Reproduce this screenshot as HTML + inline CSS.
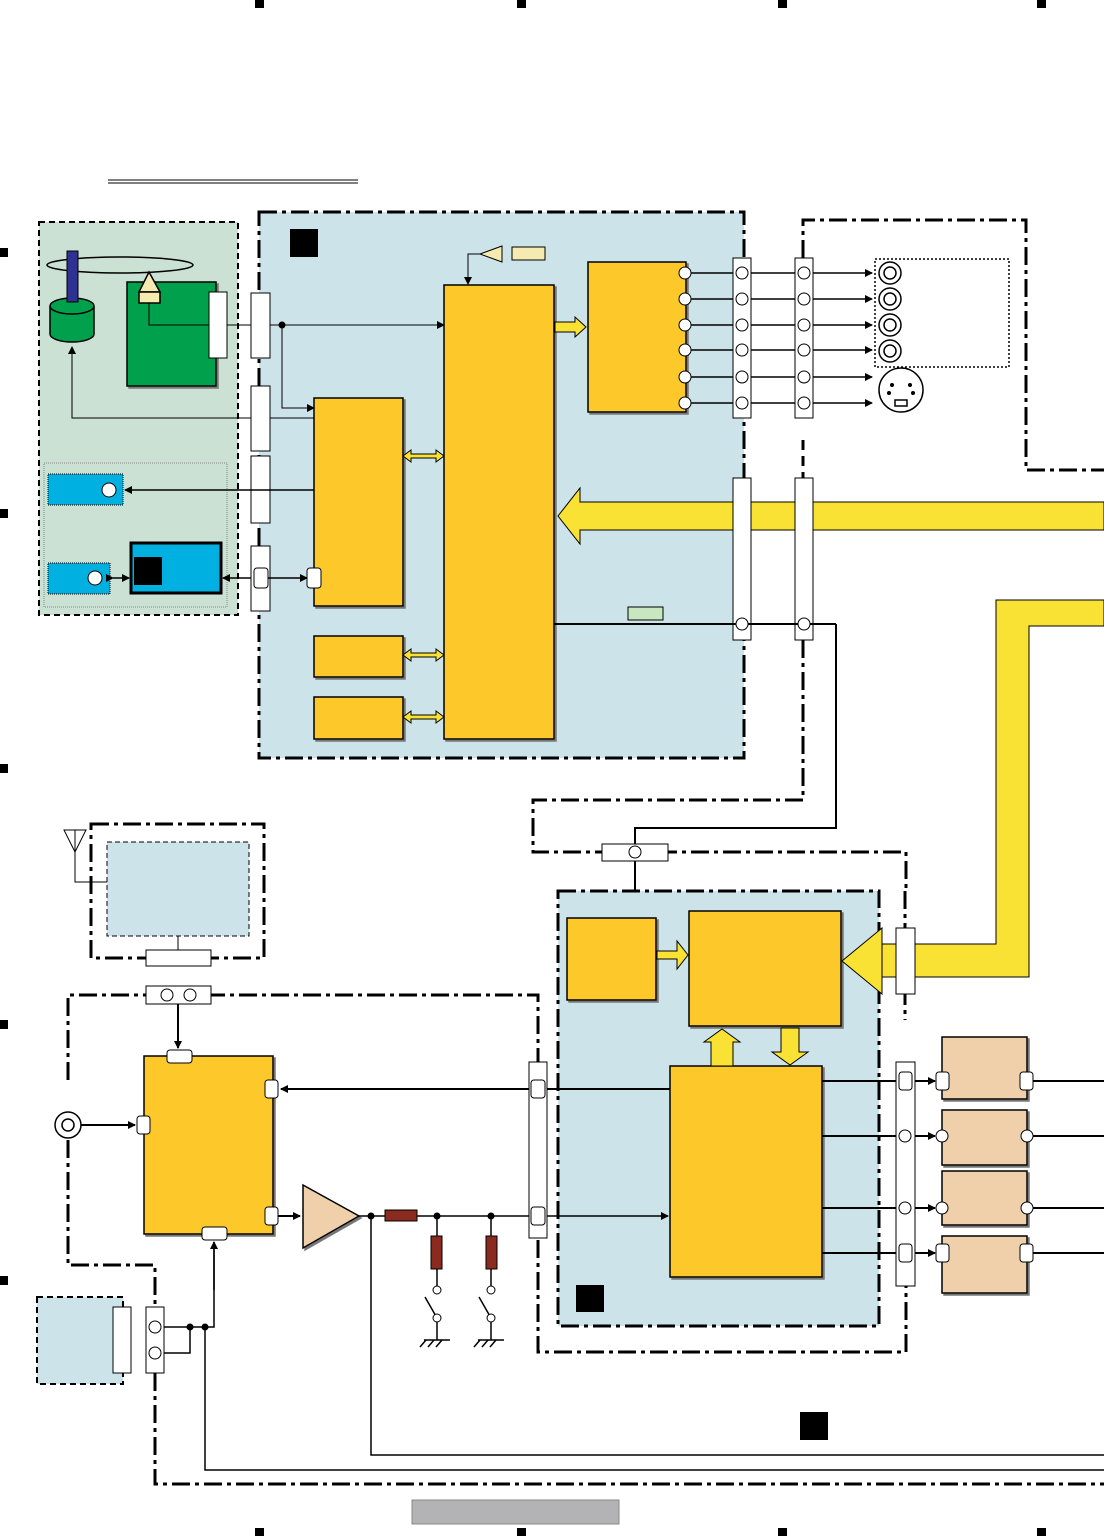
<!DOCTYPE html><html><head><meta charset="utf-8"><style>html,body{margin:0;padding:0;background:#fff}svg{display:block}</style></head><body>
<svg width="1104" height="1536" viewBox="0 0 1104 1536" xmlns="http://www.w3.org/2000/svg">
<defs>
<marker id="a" markerWidth="8" markerHeight="8" refX="7" refY="4" orient="auto" markerUnits="userSpaceOnUse"><path d="M0,0L8,4L0,8z" fill="#000"/></marker>
<filter id="s"><feDropShadow dx="2" dy="2" stdDeviation="0" flood-color="#777"/></filter>
</defs>
<g fill="#000">
<rect x="255" y="0" width="9" height="8"/><rect x="517" y="0" width="9" height="8"/><rect x="778" y="0" width="9" height="8"/><rect x="1037" y="0" width="9" height="8"/>
<rect x="255" y="1528" width="9" height="8"/><rect x="517" y="1528" width="9" height="8"/><rect x="778" y="1528" width="9" height="8"/><rect x="1037" y="1528" width="9" height="8"/>
<rect x="0" y="248" width="8" height="9"/><rect x="0" y="509" width="8" height="9"/><rect x="0" y="764" width="8" height="9"/><rect x="0" y="1020" width="8" height="9"/><rect x="0" y="1276" width="8" height="9"/>
</g>
<line x1="108" y1="180" x2="358" y2="180" stroke="#000"/><line x1="108" y1="183" x2="358" y2="183" stroke="#000"/>
<!-- green box -->
<rect x="39" y="222" width="199" height="393" fill="#cae1d3" stroke="#000" stroke-width="2" stroke-dasharray="6,4"/>
<rect x="44" y="463" width="183" height="144" fill="none" stroke="#888" stroke-dasharray="1,1"/>
<!-- blue panel -->
<rect x="259" y="212" width="485" height="546" fill="#cde3ea" stroke="#000" stroke-width="3" stroke-dasharray="18,5,4,5"/>
<rect x="290" y="229" width="28" height="28" fill="#000"/>
<!-- right dash-dot region top -->
<path d="M803,258 V220 H1026 V470 H1104" fill="none" stroke="#000" stroke-width="3" stroke-dasharray="18,5,4,5"/>
<line x1="803" y1="440" x2="803" y2="478" stroke="#000" stroke-width="3" stroke-dasharray="10,6"/>
<!-- disk -->
<ellipse cx="120" cy="265" rx="73" ry="8" fill="none" stroke="#000" stroke-width="1.5"/>
<path d="M50,306 V334 A22,8 0 0 0 94,334 V306" fill="#00a04d" stroke="#000" stroke-width="1.5"/>
<ellipse cx="72" cy="306" rx="22" ry="8" fill="#00a04d" stroke="#000" stroke-width="1.5"/>
<rect x="67" y="251" width="11" height="51" fill="#2e3192" stroke="#000"/>
<rect x="127" y="282" width="89" height="104" fill="#00a04d" stroke="#000" stroke-width="1.5" filter="url(#s)"/>
<path d="M139,292 L149,272 L160,292Z" fill="#f5eab0" stroke="#000" stroke-width="1.5"/>
<rect x="139" y="292" width="21" height="11" fill="#f5eab0" stroke="#000" stroke-width="1.5"/>
<rect x="209" y="292" width="18" height="66" fill="#fff" stroke="#000"/>
<path d="M149,303 V325 H209" fill="none" stroke="#000"/>
<line x1="227" y1="325" x2="444" y2="325" stroke="#000" marker-end="url(#a)"/>
<circle cx="282" cy="325" r="3.5"/>
<path d="M282,325 V408 H314" fill="none" stroke="#000" marker-end="url(#a)"/>
<path d="M314,418 H72 V347" fill="none" stroke="#000" marker-end="url(#a)"/>
<!-- connectors left -->
<rect x="251" y="293" width="19" height="65" fill="#fff" stroke="#000"/>
<rect x="251" y="386" width="19" height="65" fill="#fff" stroke="#000"/>
<rect x="251" y="456" width="19" height="67" fill="#fff" stroke="#000"/>
<rect x="251" y="546" width="19" height="65" fill="#fff" stroke="#000"/>
<!-- cyan boxes -->
<rect x="48" y="474" width="75" height="31" fill="#00b0e0" stroke="#000" stroke-dasharray="1,1"/>
<circle cx="109" cy="490" r="7" fill="#fff" stroke="#000"/>
<line x1="314" y1="490" x2="125" y2="490" stroke="#000" stroke-width="1.5" marker-end="url(#a)"/>
<rect x="48" y="563" width="62" height="31" fill="#00b0e0" stroke="#000" stroke-dasharray="1,1"/>
<circle cx="95" cy="578" r="7" fill="#fff" stroke="#000"/>
<rect x="131" y="543" width="90" height="50" fill="#00b0e0" stroke="#000" stroke-width="3"/>
<rect x="134" y="557" width="28" height="28" fill="#000"/>
<path d="M113,578 H129" stroke="#000" stroke-width="1.5" marker-end="url(#a)" marker-start="url(#a)"/>
<line x1="251" y1="578" x2="223" y2="578" stroke="#000" stroke-width="1.5" marker-end="url(#a)"/>
<line x1="267" y1="578" x2="307" y2="578" stroke="#000" stroke-width="1.5" marker-end="url(#a)"/>
<rect x="254" y="568" width="14" height="20" rx="3" fill="#fff" stroke="#000"/>
<!-- yellow blocks -->
<g fill="#fcc82a" stroke="#000" stroke-width="1.5" filter="url(#s)">
<rect x="444" y="285" width="110" height="454"/>
<rect x="588" y="262" width="98" height="150"/>
<rect x="314" y="398" width="89" height="208"/>
<rect x="314" y="636" width="89" height="41"/>
<rect x="314" y="697" width="89" height="42"/>
</g>
<rect x="307" y="568" width="14" height="20" rx="3" fill="#fff" stroke="#000"/>
<!-- double arrows -->
<g fill="#f9e233" stroke="#000">
<path d="M403,456 l8,-6 v4 h25 v-4 l8,6 l-8,6 v-4 h-25 v4z"/>
<path d="M403,655 l8,-6 v4 h25 v-4 l8,6 l-8,6 v-4 h-25 v4z"/>
<path d="M403,717 l8,-6 v4 h25 v-4 l8,6 l-8,6 v-4 h-25 v4z"/>
<path d="M555,322 h20 v-5 l11,10 l-11,10 v-5 h-20z"/>
</g>
<!-- triangle top -->
<path d="M480,254 L502,246 V262Z" fill="#f5eab0" stroke="#000"/>
<rect x="512" y="247" width="33" height="13" fill="#f5eab0" stroke="#000"/>
<path d="M480,254 H468 V284" fill="none" stroke="#000" marker-end="url(#a)"/>
<rect x="628" y="607" width="35" height="13" fill="#c8e6c0" stroke="#000"/>
<!-- output lines -->
<g stroke="#000" stroke-width="1.5">
<line x1="686" y1="273" x2="872" y2="273" marker-end="url(#a)"/>
<line x1="686" y1="299" x2="872" y2="299" marker-end="url(#a)"/>
<line x1="686" y1="325" x2="872" y2="325" marker-end="url(#a)"/>
<line x1="686" y1="350" x2="872" y2="350" marker-end="url(#a)"/>
<line x1="686" y1="377" x2="872" y2="377" marker-end="url(#a)"/>
<line x1="686" y1="403" x2="872" y2="403" marker-end="url(#a)"/>
</g>
<g fill="#fff" stroke="#000">
<rect x="733" y="258" width="18" height="160"/><rect x="795" y="258" width="18" height="160"/>
<rect x="733" y="478" width="18" height="162"/><rect x="795" y="478" width="18" height="162"/>
<circle cx="685" cy="273" r="6"/><circle cx="685" cy="299" r="6"/><circle cx="685" cy="325" r="6"/><circle cx="685" cy="350" r="6"/><circle cx="685" cy="377" r="6"/><circle cx="685" cy="403" r="6"/>
<circle cx="742" cy="273" r="6"/><circle cx="742" cy="299" r="6"/><circle cx="742" cy="325" r="6"/><circle cx="742" cy="350" r="6"/><circle cx="742" cy="377" r="6"/><circle cx="742" cy="403" r="6"/>
<circle cx="804" cy="273" r="6"/><circle cx="804" cy="299" r="6"/><circle cx="804" cy="325" r="6"/><circle cx="804" cy="350" r="6"/><circle cx="804" cy="377" r="6"/><circle cx="804" cy="403" r="6"/>
</g>
<rect x="875" y="259" width="134" height="108" fill="none" stroke="#000" stroke-width="1.5" stroke-dasharray="2,2"/>
<g fill="#fff" stroke="#000" stroke-width="1.5">
<circle cx="890" cy="273" r="11"/><circle cx="890" cy="273" r="6"/>
<circle cx="890" cy="299" r="11"/><circle cx="890" cy="299" r="6"/>
<circle cx="890" cy="325" r="11"/><circle cx="890" cy="325" r="6"/>
<circle cx="890" cy="351" r="11"/><circle cx="890" cy="351" r="6"/>
<circle cx="901" cy="390" r="22"/><rect x="895" y="400" width="12" height="6"/>
</g>
<g fill="#000"><circle cx="892" cy="385" r="2"/><circle cx="910" cy="385" r="2"/><circle cx="889" cy="393" r="2"/><circle cx="913" cy="393" r="2"/></g>
<!-- big yellow arrow -->
<path d="M1104,502 H580 V488 L558,516 L580,544 V530 H1104Z" fill="#f9e233" stroke="#000"/>
<rect x="733" y="478" width="18" height="162" fill="#fff" stroke="#000"/><rect x="795" y="478" width="18" height="162" fill="#fff" stroke="#000"/>
<line x1="554" y1="624" x2="836" y2="624" stroke="#000" stroke-width="2"/>
<circle cx="742" cy="624" r="6" fill="#fff" stroke="#000"/><circle cx="804" cy="624" r="6" fill="#fff" stroke="#000"/>
<!-- connection to lower -->
<path d="M836,624 V828 H635 V915" fill="none" stroke="#000" stroke-width="2" marker-end="url(#a)"/>
<path d="M803,640 V800 H533 V852 H906 V891" fill="none" stroke="#000" stroke-width="3" stroke-dasharray="18,5,4,5"/>
<rect x="602" y="844" width="66" height="17" fill="#fff" stroke="#000"/><circle cx="635" cy="852" r="6" fill="#fff" stroke="#000"/>
<!-- right yellow L -->
<path d="M1104,600 H996 V944 H882 V928 L842,961 L882,994 V977 H1029 V626 H1104Z" fill="#f9e233" stroke="#000"/>
<!-- lower blue box -->
<rect x="558" y="891" width="321" height="435" fill="#cde3ea" stroke="#000" stroke-width="3" stroke-dasharray="18,5,4,5"/>
<path d="M882,961 H842" stroke="none"/>
<path d="M905,891 V1020" stroke="#000" stroke-width="3" stroke-dasharray="18,5,4,5"/>
<rect x="896" y="928" width="19" height="66" fill="#fff" stroke="#000"/>
<g fill="#fcc82a" stroke="#000" stroke-width="1.5" filter="url(#s)">
<rect x="567" y="918" width="89" height="82"/>
<rect x="689" y="911" width="152" height="115"/>
<rect x="670" y="1066" width="152" height="211"/>
</g>
<path d="M842,961 l40,-33 v66z" fill="#f9e233" stroke="#000"/>
<g fill="#f9e233" stroke="#000">
<path d="M657,951 h20 v-10 l11,14 l-11,14 v-10 h-20z"/>
<path d="M711,1066 v-24 h-7 l18,-13 l18,13 h-7 v24z"/>
<path d="M781,1028 v24 h-9 l18,13 l18,-13 h-9 v-24z"/>
</g>
<rect x="576" y="1285" width="28" height="27" fill="#000"/>
<rect x="800" y="1412" width="28" height="28" fill="#000"/>
<!-- tan boxes -->
<g fill="#f0cfab" stroke="#000" stroke-width="1.5" filter="url(#s)">
<rect x="942" y="1037" width="85" height="62"/>
<rect x="942" y="1110" width="85" height="55"/>
<rect x="942" y="1171" width="85" height="54"/>
<rect x="942" y="1236" width="85" height="57"/>
</g>
<g stroke="#000" stroke-width="2">
<line x1="822" y1="1081" x2="935" y2="1081" marker-end="url(#a)"/>
<line x1="822" y1="1136" x2="935" y2="1136" marker-end="url(#a)"/>
<line x1="822" y1="1208" x2="935" y2="1208" marker-end="url(#a)"/>
<line x1="822" y1="1253" x2="935" y2="1253" marker-end="url(#a)"/>
<line x1="1027" y1="1081" x2="1104" y2="1081"/><line x1="1027" y1="1136" x2="1104" y2="1136"/>
<line x1="1027" y1="1208" x2="1104" y2="1208"/><line x1="1027" y1="1253" x2="1104" y2="1253"/>
</g>
<rect x="896" y="1062" width="19" height="224" fill="#fff" stroke="#000"/>
<g fill="#fff" stroke="#000">
<rect x="899" y="1072" width="13" height="18" rx="3"/><circle cx="905" cy="1136" r="6"/><circle cx="905" cy="1208" r="6"/><rect x="899" y="1244" width="13" height="18" rx="3"/>
<rect x="936" y="1072" width="13" height="18" rx="3"/><circle cx="942" cy="1136" r="6"/><circle cx="942" cy="1208" r="6"/><rect x="936" y="1244" width="13" height="18" rx="3"/>
<rect x="1020" y="1072" width="13" height="18" rx="3"/><circle cx="1027" cy="1136" r="6"/><circle cx="1027" cy="1208" r="6"/><rect x="1020" y="1244" width="13" height="18" rx="3"/>
</g>
<!-- top-left small box -->
<rect x="91" y="824" width="173" height="134" fill="none" stroke="#000" stroke-width="3" stroke-dasharray="18,5,4,5"/>
<rect x="107" y="842" width="142" height="94" fill="#cde3ea" stroke="#000" stroke-dasharray="5,3"/>
<path d="M64,830 H86 L75,852Z M75,830 V882 H107" fill="none" stroke="#000"/>
<line x1="178" y1="936" x2="178" y2="950" stroke="#000"/>
<rect x="146" y="950" width="65" height="16" fill="#fff" stroke="#000"/>
<!-- dash-dot loop -->
<path d="M68,1080 V995 H538 V1352 H906 V1286" fill="none" stroke="#000" stroke-width="3" stroke-dasharray="18,5,4,5"/>
<path d="M68,1140 V1265 H155 V1484 H1104" fill="none" stroke="#000" stroke-width="3" stroke-dasharray="18,5,4,5"/>
<rect x="146" y="986" width="65" height="18" fill="#fff" stroke="#000"/>
<circle cx="167" cy="995" r="6" fill="#fff" stroke="#000"/><circle cx="190" cy="995" r="6" fill="#fff" stroke="#000"/>
<line x1="178" y1="1004" x2="178" y2="1048" stroke="#000" stroke-width="2" marker-end="url(#a)"/>
<!-- left yellow -->
<rect x="144" y="1056" width="129" height="178" fill="#fcc82a" stroke="#000" stroke-width="1.5" filter="url(#s)"/>
<g fill="#fff" stroke="#000">
<rect x="167" y="1050" width="25" height="13" rx="3"/><rect x="202" y="1227" width="25" height="13" rx="3"/>
<rect x="265" y="1080" width="13" height="18" rx="3"/><rect x="265" y="1207" width="13" height="18" rx="3"/>
<rect x="137" y="1116" width="13" height="18" rx="3"/>
</g>
<circle cx="68" cy="1125" r="13" fill="#fff" stroke="#000" stroke-width="1.5"/><circle cx="68" cy="1125" r="6" fill="#fff" stroke="#000" stroke-width="1.5"/>
<line x1="81" y1="1125" x2="135" y2="1125" stroke="#000" stroke-width="2" marker-end="url(#a)"/>
<line x1="670" y1="1089" x2="281" y2="1089" stroke="#000" stroke-width="2" marker-end="url(#a)"/>
<line x1="278" y1="1216" x2="300" y2="1216" stroke="#000" stroke-width="2" marker-end="url(#a)"/>
<path d="M303,1185 L359,1216 L303,1248Z" fill="#f0cfab" stroke="#000" stroke-width="1.5" filter="url(#s)"/>
<line x1="359" y1="1216" x2="668" y2="1216" stroke="#000" stroke-width="1.5" marker-end="url(#a)"/>
<rect x="529" y="1062" width="18" height="176" fill="#fff" stroke="#000"/>
<rect x="531" y="1080" width="14" height="18" rx="3" fill="#fff" stroke="#000"/><rect x="531" y="1207" width="14" height="18" rx="3" fill="#fff" stroke="#000"/>
<rect x="385" y="1210" width="32" height="11" fill="#8b2a1e" stroke="#000"/>
<g stroke="#000" stroke-width="1.5" fill="none">
<line x1="437" y1="1216" x2="437" y2="1290"/><line x1="491" y1="1216" x2="491" y2="1290"/>
<path d="M437,1318 L425,1297 M491,1318 L479,1297"/>
<path d="M437,1318 V1340 M424,1340 H450 M491,1318 V1340 M478,1340 H504"/>
<path d="M426,1340 l-6,7 M434,1340 l-6,7 M442,1340 l-6,7 M480,1340 l-6,7 M488,1340 l-6,7 M496,1340 l-6,7"/>
</g>
<rect x="431" y="1236" width="11" height="33" fill="#8b2a1e" stroke="#000"/>
<rect x="486" y="1236" width="11" height="33" fill="#8b2a1e" stroke="#000"/>
<g fill="#fff" stroke="#000"><circle cx="437" cy="1290" r="4"/><circle cx="491" cy="1290" r="4"/><circle cx="437" cy="1318" r="4"/><circle cx="491" cy="1318" r="4"/></g>
<g fill="#000"><circle cx="371" cy="1216" r="3.5"/><circle cx="437" cy="1216" r="3.5"/><circle cx="491" cy="1216" r="3.5"/></g>
<path d="M371,1216 V1455 H1104" fill="none" stroke="#000" stroke-width="1.5"/>
<!-- bottom left -->
<rect x="37" y="1297" width="86" height="87" fill="#cde3ea" stroke="#000" stroke-width="2" stroke-dasharray="6,4"/>
<rect x="113" y="1307" width="18" height="66" fill="#fff" stroke="#000"/>
<rect x="146" y="1307" width="18" height="66" fill="#fff" stroke="#000"/>
<circle cx="155" cy="1327" r="6" fill="#fff" stroke="#000"/><circle cx="155" cy="1353" r="6" fill="#fff" stroke="#000"/>
<path d="M164,1327 H214 V1242 M190,1327 V1353 H164 M205,1327 V1470 H1104" fill="none" stroke="#000" stroke-width="1.5"/>
<line x1="214" y1="1290" x2="214" y2="1242" stroke="#000" stroke-width="1.5" marker-end="url(#a)"/>
<circle cx="190" cy="1327" r="3.5"/><circle cx="205" cy="1327" r="3.5"/>
<rect x="412" y="1500" width="207" height="24" fill="#b3b3b5" stroke="#888"/>
</svg>
</body></html>
